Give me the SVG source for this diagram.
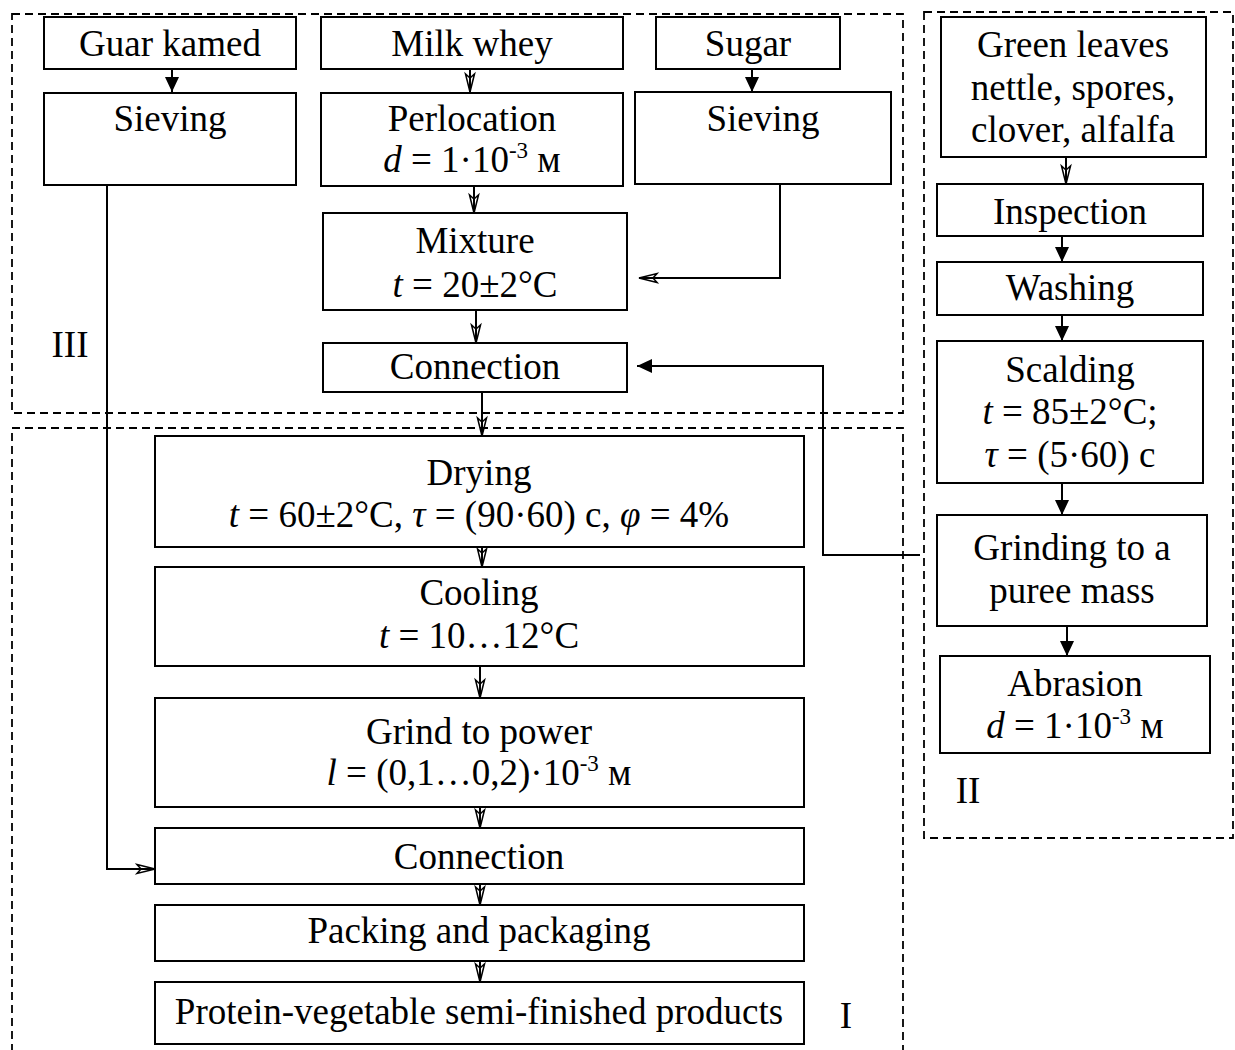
<svg xmlns="http://www.w3.org/2000/svg" width="1235" height="1050" viewBox="0 0 1235 1050">
<style>
.box{fill:#fff;stroke:#000;stroke-width:2}
.frame{fill:none;stroke:#000;stroke-width:1.8;stroke-dasharray:8 5}
.t{font-family:"Liberation Serif","Times New Roman",serif;font-size:37px;fill:#000;text-anchor:middle}
.i{font-style:italic}
.sup{font-size:23px}
.c{fill:none;stroke:#000;stroke-width:2}
.f{marker-end:url(#fa)}
.o{marker-end:url(#oa)}
</style>
<defs>
<marker id="fa" markerUnits="userSpaceOnUse" viewBox="0 0 15 14" refX="15" refY="7" markerWidth="15" markerHeight="14" orient="auto">
<path d="M0,0 L15,7 L0,14 z" fill="#000"/>
</marker>
<marker id="oa" markerUnits="userSpaceOnUse" viewBox="-1 -1 21 11" refX="18" refY="4.5" markerWidth="21" markerHeight="11" orient="auto" overflow="visible">
<path d="M0,0 L18,4.5 L0,9 L4,4.5 z" fill="none" stroke="#000" stroke-width="1.5" stroke-linejoin="miter"/>
</marker>
</defs>
<rect width="1235" height="1050" fill="#fff"/>

<g id="frames">
<rect class="frame" x="12" y="14" width="891" height="399"/>
<path class="frame" d="M12,1052 V428 H903 V1052"/>
<rect class="frame" x="924" y="12" width="309" height="826"/>
<text class="t" x="70" y="357">III</text>
<text class="t" x="846" y="1028">I</text>
<text class="t" x="968" y="803">II</text>
</g>

<g id="connectors">
<path class="c f" d="M172,69 V92"/>
<path class="c o" d="M470,69 V92"/>
<path class="c f" d="M752,69 V92"/>
<path class="c o" d="M474,186 V213"/>
<path class="c o" d="M780,184 V278 H639"/>
<path class="c o" d="M476,310 V343"/>
<path class="c o" d="M482,392 V436"/>
<path class="c f" d="M920,555 H823 V366 H637"/>
<path class="c o" d="M107,185 V869 H155"/>
<path class="c o" d="M482,547 V567"/>
<path class="c o" d="M480,666 V698"/>
<path class="c o" d="M480,807 V828"/>
<path class="c o" d="M480,884 V905"/>
<path class="c o" d="M480,961 V982"/>
<path class="c o" d="M1066,157 V184"/>
<path class="c f" d="M1062,236 V262"/>
<path class="c f" d="M1062,315 V341"/>
<path class="c f" d="M1062,483 V515"/>
<path class="c f" d="M1067,626 V656"/>
</g>

<g id="guar">
<rect class="box" x="44" y="17" width="252" height="52"/>
<text class="t" x="170" y="56">Guar kamed</text>
</g>
<g id="milk">
<rect class="box" x="321" y="17" width="302" height="52"/>
<text class="t" x="472" y="56">Milk whey</text>
</g>
<g id="sugar">
<rect class="box" x="656" y="17" width="184" height="52"/>
<text class="t" x="748" y="56">Sugar</text>
</g>
<g id="sieving1">
<rect class="box" x="44" y="93" width="252" height="92"/>
<text class="t" x="170" y="131">Sieving</text>
</g>
<g id="perlocation">
<rect class="box" x="321" y="93" width="302" height="93"/>
<text class="t" x="472" y="131">Perlocation</text>
<text class="t" x="472" y="172"><tspan class="i">d</tspan> = 1·10<tspan class="sup" dy="-14">-3</tspan><tspan dy="14"> м</tspan></text>
</g>
<g id="sieving2">
<rect class="box" x="635" y="92" width="256" height="92"/>
<text class="t" x="763" y="131">Sieving</text>
</g>
<g id="mixture">
<rect class="box" x="323" y="213" width="304" height="97"/>
<text class="t" x="475" y="253">Mixture</text>
<text class="t" x="475" y="297"><tspan class="i">t</tspan> = 20±2°C</text>
</g>
<g id="connection1">
<rect class="box" x="323" y="343" width="304" height="49"/>
<text class="t" x="475" y="379">Connection</text>
</g>

<g id="green">
<rect class="box" x="941" y="17" width="265" height="140"/>
<text class="t" x="1073" y="57">Green leaves</text>
<text class="t" x="1073" y="100">nettle, spores,</text>
<text class="t" x="1073" y="142">clover, alfalfa</text>
</g>
<g id="inspection">
<rect class="box" x="937" y="184" width="266" height="52"/>
<text class="t" x="1070" y="224">Inspection</text>
</g>
<g id="washing">
<rect class="box" x="937" y="262" width="266" height="53"/>
<text class="t" x="1070" y="300">Washing</text>
</g>
<g id="scalding">
<rect class="box" x="937" y="341" width="266" height="142"/>
<text class="t" x="1070" y="382">Scalding</text>
<text class="t" x="1070" y="424"><tspan class="i">t</tspan> = 85±2°C;</text>
<text class="t" x="1070" y="467"><tspan class="i">τ</tspan> = (5·60) c</text>
</g>
<g id="grinding">
<rect class="box" x="937" y="515" width="270" height="111"/>
<text class="t" x="1072" y="560">Grinding to a</text>
<text class="t" x="1072" y="603">puree mass</text>
</g>
<g id="abrasion">
<rect class="box" x="940" y="656" width="270" height="97"/>
<text class="t" x="1075" y="696">Abrasion</text>
<text class="t" x="1075" y="738"><tspan class="i">d</tspan> = 1·10<tspan class="sup" dy="-14">-3</tspan><tspan dy="14"> м</tspan></text>
</g>

<g id="drying">
<rect class="box" x="155" y="436" width="649" height="111"/>
<text class="t" x="479" y="485">Drying</text>
<text class="t" x="479" y="527"><tspan class="i">t</tspan> = 60±2°C, <tspan class="i">τ</tspan> = (90·60) c, <tspan class="i">φ</tspan> = 4%</text>
</g>
<g id="cooling">
<rect class="box" x="155" y="567" width="649" height="99"/>
<text class="t" x="479" y="605">Cooling</text>
<text class="t" x="479" y="648"><tspan class="i">t</tspan> = 10…12°C</text>
</g>
<g id="grind">
<rect class="box" x="155" y="698" width="649" height="109"/>
<text class="t" x="479" y="744">Grind to power</text>
<text class="t" x="479" y="785"><tspan class="i">l</tspan> = (0,1…0,2)·10<tspan class="sup" dy="-14">-3</tspan><tspan dy="14"> м</tspan></text>
</g>
<g id="connection2">
<rect class="box" x="155" y="828" width="649" height="56"/>
<text class="t" x="479" y="869">Connection</text>
</g>
<g id="packing">
<rect class="box" x="155" y="905" width="649" height="56"/>
<text class="t" x="479" y="943">Packing and packaging</text>
</g>
<g id="protein">
<rect class="box" x="155" y="982" width="649" height="62"/>
<text class="t" x="479" y="1024">Protein-vegetable semi-finished products</text>
</g>
</svg>
